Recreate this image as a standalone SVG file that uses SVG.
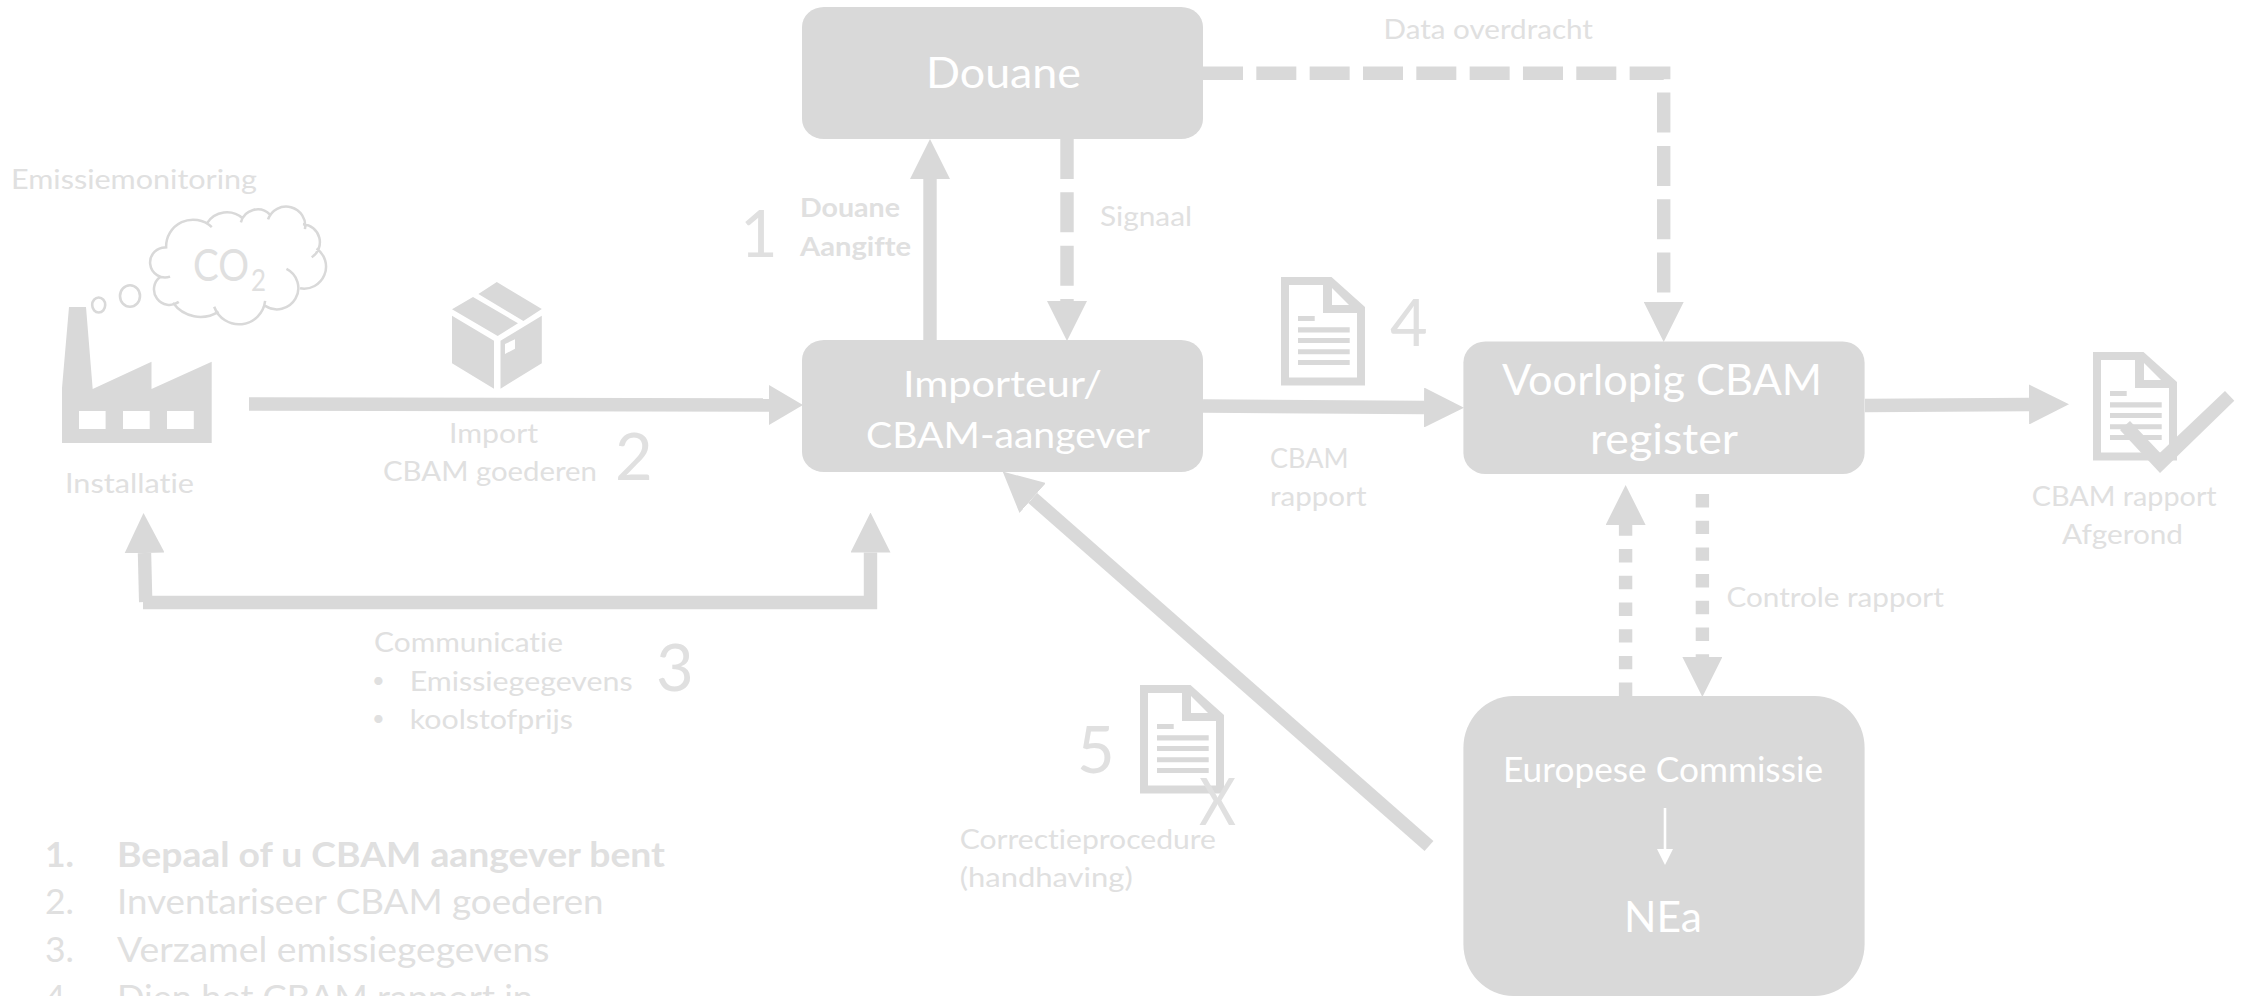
<svg xmlns="http://www.w3.org/2000/svg" xmlns:xlink="http://www.w3.org/1999/xlink" width="2244" height="996" viewBox="0 0 2244 996">
<style>
text{font-family:"Lato","Carlito","Liberation Sans",sans-serif;fill:#e0e0e0;font-size:27px;font-variant-ligatures:none}
.w{fill:#fff}
.b{font-weight:700}
.n{font-size:65px;font-weight:400}
.l{font-size:35px}
.h{font-size:42px}
.box{fill:#d9d9d9}
.shape{fill:#d9d9d9}
.c{fill:none;stroke:#d9d9d9;stroke-width:13.4}
.long{marker-end:url(#al)}
.short{marker-end:url(#as)}
.dash{stroke-dasharray:40 13.33}
.dot{stroke-dasharray:13.4 13.3}
.o{fill:none;stroke:#d9d9d9;stroke-width:2.6}
</style>
<defs>
<marker id="al" viewBox="0 0 40 40" refX="0" refY="20" markerUnits="userSpaceOnUse" markerWidth="40" markerHeight="40" orient="auto"><path d="M0 0L40 20L0 40Z" fill="#d9d9d9"/></marker>
<marker id="as" viewBox="0 0 34 40" refX="0" refY="20" markerUnits="userSpaceOnUse" markerWidth="34" markerHeight="40" orient="auto"><path d="M0 0L34 20L0 40Z" fill="#d9d9d9"/></marker>
<marker id="aw" viewBox="0 0 16 16" refX="0" refY="8" markerUnits="userSpaceOnUse" markerWidth="16" markerHeight="16" orient="auto"><path d="M0 0L16 8L0 16Z" fill="#fff"/></marker>
<path id="doc" fill="#d9d9d9" fill-rule="evenodd" d="M0 0H50.5L84 30V108.5H0ZM8 8V100.5H76V36H42V8ZM51 11V28H68ZM17 39H33.7V44H17ZM17 50.3H68.7V55.5H17ZM17 61H68.7V66H17ZM17 72.3H68.7V77.3H17ZM17 83H68.7V88H17Z"/>
</defs>
<rect width="2244" height="996" fill="#fff"/>

<g id="connectors">
<path id="c-import" class="c short" d="M249 404L769 405"/>
<path id="c-aangifte" class="c long" d="M930 340V179"/>
<path id="c-signaal" class="c long dash" d="M1067 139V301"/>
<path id="c-data" class="c long dash" d="M1203 73.3H1663.7V302"/>
<path id="c-rapport" class="c long" d="M1203 406L1424 407.5"/>
<path id="c-afgerond" class="c long" d="M1865 405.5L2029 404.5"/>
<path id="c-comm-left" class="c long" d="M145.7 602L144.5 553"/>
<path id="c-comm-right" class="c long" d="M143 602.5H870.5V552.5"/>
<path id="c-controle" class="c long dot" d="M1702.4 494V657"/>
<path id="c-ec-up" class="c long dot" d="M1625.6 696V525"/>
<path id="c-correctie" class="c long" d="M1429 846L1032.7 498"/>
</g>

<g id="node-douane">
<rect class="box" x="802" y="7" width="401" height="132" rx="22" ry="20"/>
<text class="w h" x="926" y="88" textLength="155" lengthAdjust="spacingAndGlyphs">Douane</text>
</g>
<g id="node-importeur">
<rect class="box" x="802" y="340" width="401" height="132" rx="22" ry="20"/>
<text class="w" style="font-size:36px" x="903" y="397" textLength="199" lengthAdjust="spacingAndGlyphs">Importeur/</text>
<text class="w" style="font-size:36px" x="866" y="448" textLength="284" lengthAdjust="spacingAndGlyphs">CBAM-aangever</text>
</g>
<g id="node-voorlopig">
<rect class="box" x="1463.400" y="341.500" width="401.200" height="132.500" rx="22" ry="21"/>
<text class="w h" x="1502" y="395.400" textLength="320" lengthAdjust="spacingAndGlyphs">Voorlopig CBAM</text>
<text class="w h" x="1590" y="453.600" textLength="148" lengthAdjust="spacingAndGlyphs">register</text>
</g>
<g id="node-ec">
<rect class="box" x="1463.400" y="696" width="401.200" height="300" rx="50" ry="52"/>
<text class="w" style="font-size:34px" x="1503" y="782" textLength="320" lengthAdjust="spacingAndGlyphs">Europese Commissie</text>
<path d="M1665 808V849" fill="none" stroke="#fff" stroke-width="2.600" marker-end="url(#aw)"/>
<text class="w h" x="1624" y="932" textLength="78" lengthAdjust="spacingAndGlyphs">NEa</text>
</g>

<g id="node-installatie">
<path class="shape" fill-rule="evenodd" d="M62 388L69 307H86L92.700 389L151.500 361.700V389L211.700 361.700V443H62ZM79 411V429H105.600V411ZM123 411V429H149.700V411ZM167 411V429H193.800V411Z"/>
<ellipse class="o" cx="98.700" cy="305" rx="6.500" ry="7.500"/>
<ellipse class="o" cx="130" cy="296" rx="10" ry="10.700"/>
<path class="o" transform="translate(237 266) scale(.97) translate(-237 -266)" d="M165 247A15.500 15.500 0 1 0 168 277M158 277A16.100 16.100 0 1 0 177 303M171 304A34.800 34.800 0 0 0 218 313M213.500 308A27.100 27.100 0 0 0 266 302M266 307A22 22 0 1 0 288 269M302 289A22.700 22.700 0 0 0 319 248M314 257A18.500 18.500 0 0 0 305 223M307 228A19.700 19.700 0 0 0 269 218M271 213A17.800 17.800 0 0 0 241 221M243 217A24.400 24.400 0 0 0 206 222M211 226A27.800 27.800 0 0 0 164 248"/>
<text style="font-size:45px"><tspan x="193" y="280.700" textLength="56" lengthAdjust="spacingAndGlyphs">CO</tspan><tspan style="font-size:31px" x="251" y="290.700" textLength="15" lengthAdjust="spacingAndGlyphs">2</tspan></text>
<text x="11" y="189" textLength="246" lengthAdjust="spacingAndGlyphs">Emissiemonitoring</text>
<text x="65" y="493" textLength="129" lengthAdjust="spacingAndGlyphs">Installatie</text>
</g>

<g id="node-goederen">
<path class="shape" d="M496.800 282L541.800 309L523.400 321L478.400 294ZM473 297L518 323.300L497.700 336L452 309.300ZM452 315.700L494 340.700V388.700L452 363.300ZM500.500 340.700L541.800 315.700V363.300L500.500 388.700ZM505 344V354L515 348.700V339.300Z" fill-rule="evenodd"/>
<text x="449" y="443" textLength="89" lengthAdjust="spacingAndGlyphs">Import</text>
<text x="383" y="481" textLength="214" lengthAdjust="spacingAndGlyphs">CBAM goederen</text>
<text class="n" x="615" y="480">2</text>
</g>

<g id="node-communicatie">
<text x="374" y="651.700" textLength="189" lengthAdjust="spacingAndGlyphs">Communicatie</text>
<text style="font-size:22px" x="372" y="688">•</text>
<text x="409.700" y="690.700" textLength="223" lengthAdjust="spacingAndGlyphs">Emissiegegevens</text>
<text style="font-size:22px" x="372" y="726">•</text>
<text x="409.700" y="729" textLength="163.300" lengthAdjust="spacingAndGlyphs">koolstofprijs</text>
<text class="n" x="656" y="690.700">3</text>
</g>

<g id="node-aangifte">
<text class="n" x="740" y="257">1</text>
<text class="b" x="800" y="217" textLength="100" lengthAdjust="spacingAndGlyphs">Douane</text>
<text class="b" x="800" y="256" textLength="111" lengthAdjust="spacingAndGlyphs">Aangifte</text>
</g>
<g id="label-signaal"><text x="1100" y="226" textLength="92" lengthAdjust="spacingAndGlyphs">Signaal</text></g>
<g id="label-data"><text x="1383.500" y="39" textLength="209.500" lengthAdjust="spacingAndGlyphs">Data overdracht</text></g>

<g id="node-rapport">
<use href="#doc" xlink:href="#doc" x="1281" y="277"/>
<text class="n" x="1390" y="345.700">4</text>
<text x="1270" y="467.700" textLength="78.600" lengthAdjust="spacingAndGlyphs">CBAM</text>
<text x="1270" y="506" textLength="96.500" lengthAdjust="spacingAndGlyphs">rapport</text>
</g>

<g id="node-afgerond">
<use href="#doc" xlink:href="#doc" x="2093" y="352"/>
<path class="shape" d="M2130 421L2160 452.700L2225 391L2234.300 400.700L2160 473L2120 430Z"/>
<text x="2031.700" y="505.500" textLength="185" lengthAdjust="spacingAndGlyphs">CBAM rapport</text>
<text x="2062" y="543.500" textLength="121" lengthAdjust="spacingAndGlyphs">Afgerond</text>
</g>

<g id="node-correctie">
<use href="#doc" xlink:href="#doc" x="1140" y="685"/>
<text class="n" x="1077" y="773">5</text>
<text class="n" x="1199" y="825" textLength="37" lengthAdjust="spacingAndGlyphs">X</text>
<text x="959.700" y="849" textLength="256.300" lengthAdjust="spacingAndGlyphs">Correctieprocedure</text>
<text x="959.700" y="887" textLength="173" lengthAdjust="spacingAndGlyphs">(handhaving)</text>
</g>
<g id="label-controle"><text x="1726.500" y="606.600" textLength="217.300" lengthAdjust="spacingAndGlyphs">Controle rapport</text></g>

<g id="steps">
<text class="l b" x="45" y="866.700" textLength="29" lengthAdjust="spacingAndGlyphs">1.</text>
<text class="l b" x="117" y="866.700" textLength="548" lengthAdjust="spacingAndGlyphs">Bepaal of u CBAM aangever bent</text>
<text class="l" x="45" y="914" textLength="29" lengthAdjust="spacingAndGlyphs">2.</text>
<text class="l" x="117" y="914" textLength="486.600" lengthAdjust="spacingAndGlyphs">Inventariseer CBAM goederen</text>
<text class="l" x="45" y="962" textLength="29" lengthAdjust="spacingAndGlyphs">3.</text>
<text class="l" x="117" y="962" textLength="432.500" lengthAdjust="spacingAndGlyphs">Verzamel emissiegegevens</text>
<text class="l" x="45" y="1010" textLength="29" lengthAdjust="spacingAndGlyphs">4.</text>
<text class="l" x="117" y="1010" textLength="416" lengthAdjust="spacingAndGlyphs">Dien het CBAM rapport in</text>
</g>
</svg>
